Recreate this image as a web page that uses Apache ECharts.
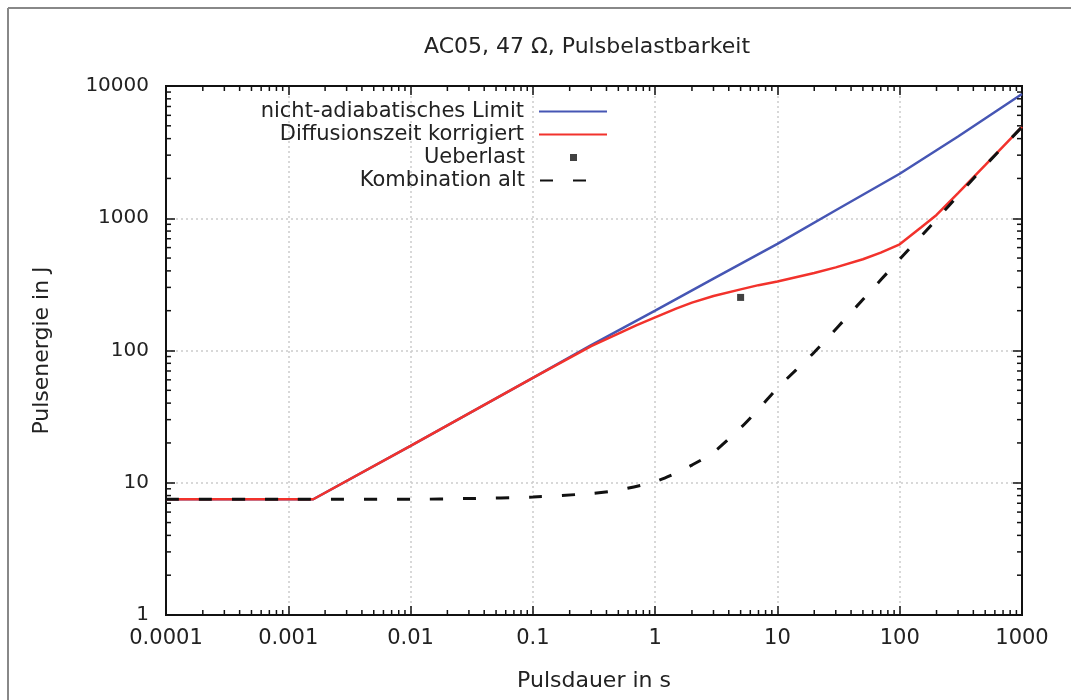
<!DOCTYPE html>
<html>
<head>
<meta charset="utf-8">
<script src="https://cdn.jsdelivr.net/npm/echarts@6/dist/echarts.min.js"></script>
<style>
  html, body { margin: 0; padding: 0; background: #fff; }
  #chart { width: 1071px; height: 700px; }
</style>
</head>
<body>
<div id="chart"></div>
<script>
// Pulsdauer (s) / Pulsenergie (J)
var limitX = [0.0001, 0.0016, 0.01, 0.1, 0.3, 1, 3, 10, 30, 100, 300, 1000];
var limitY = [7.5, 7.5, 19, 62, 110, 200, 350, 640, 1150, 2170, 4150, 8700];

var diffX = [0.0001, 0.0016, 0.01, 0.1, 0.3, 0.5, 0.7, 1, 1.5, 2, 3, 5, 7, 10, 20, 30, 50, 70, 100, 150, 200, 300, 500, 1000];
var diffY = [7.5, 7.5, 19, 62, 108, 134, 155, 178, 208, 230, 258, 290, 312, 332, 385, 425, 490, 550, 635, 855, 1060, 1550, 2520, 4900];

var overloadX = [5];
var overloadY = [252];

var combiX = [0.0001, 0.001, 0.01, 0.03, 0.1, 0.3, 0.5, 1, 1.5, 2, 3, 5, 7, 10, 20, 50, 100, 200, 500, 1000];
var combiY = [7.5, 7.5, 7.5, 7.6, 7.8, 8.3, 8.8, 10.2, 11.9, 13.6, 17, 26, 36, 52, 97, 243, 490, 980, 2500, 4900];

var xDecades = [0.0001, 0.001, 0.01, 0.1, 1, 10, 100];
var yDecades = [1, 10, 100, 1000];
var minorSteps = [2, 3, 4, 5, 6, 7, 8, 9];

var legendNames = ['nicht-adiabatisches Limit', 'Diffusionszeit korrigiert', 'Ueberlast', 'Kombination alt'];

function pairs(xs, ys) {
    return xs.map(function (x, i) { return [x, ys[i]]; });
}

var minorTicks = [];
xDecades.forEach(function (d) {
    minorSteps.forEach(function (m) { minorTicks.push([d * m, 1, 0]); });
});
yDecades.forEach(function (d) {
    minorSteps.forEach(function (m) { minorTicks.push([0.0001, d * m, 1]); });
});

var font = 'DejaVu Sans';
var txt = '#222';

function logLabel(v) {
    return String(+v.toPrecision(3));
}

var legends = legendNames.map(function (name, i) {
    var l = {
        data: [name],
        orient: 'horizontal',
        align: 'right',
        right: 458,
        top: 96 + i * 23,
        itemWidth: 68,
        itemHeight: 14,
        selectedMode: false,
        itemStyle: { opacity: 0 },
        textStyle: { fontFamily: font, fontSize: 21, color: txt, padding: [0, 10, 0, 0] }
    };
    if (i === 2) {
        l.right = 489;
        l.itemWidth = 7;
        l.itemHeight = 7;
        l.itemStyle = { color: '#111' };
        l.textStyle = { fontFamily: font, fontSize: 21, color: txt, padding: [0, 40, 0, 0] };
    }
    if (i === 3) {
        l.right = 478;
        l.itemWidth = 47;
    }
    return l;
});

var option = {
    backgroundColor: '#fff',
    animation: false,
    title: {
        text: 'AC05, 47 \u03A9, Pulsbelastbarkeit',
        left: 419,
        top: 31,
        textStyle: { fontFamily: font, fontSize: 22, fontWeight: 'normal', color: txt }
    },
    legend: legends,
    grid: {
        left: 166, right: 49, top: 86, bottom: 85,
        show: true, borderColor: '#111', borderWidth: 2
    },
    xAxis: [{
        type: 'log',
        logBase: 10,
        min: 0.0001,
        max: 1000,
        splitNumber: 10,
        name: 'Pulsdauer in s',
        nameLocation: 'middle',
        nameGap: 55,
        nameTextStyle: { fontFamily: font, fontSize: 22, color: txt },
        axisLine: { lineStyle: { color: '#111', width: 2 } },
        axisTick: { inside: true, length: 9, lineStyle: { color: '#111', width: 1.5 } },
        axisLabel: { fontFamily: font, fontSize: 21, color: txt, margin: 13, formatter: logLabel },
        splitLine: { show: true, lineStyle: { color: '#cccccc', type: [2, 3], width: 1.5 } }
    }, {
        type: 'log',
        logBase: 10,
        min: 0.0001,
        max: 1000,
        splitNumber: 10,
        position: 'top',
        axisLine: { lineStyle: { color: '#111', width: 2 } },
        axisTick: { inside: true, length: 9, lineStyle: { color: '#111', width: 1.5 } },
        axisLabel: { show: false },
        splitLine: { show: false }
    }],
    yAxis: [{
        type: 'log',
        logBase: 10,
        min: 1,
        max: 10000,
        name: 'Pulsenergie in J',
        nameLocation: 'middle',
        nameGap: 113,
        nameTextStyle: { fontFamily: font, fontSize: 22, color: txt },
        axisLine: { lineStyle: { color: '#111', width: 2 } },
        axisTick: { inside: true, length: 9, lineStyle: { color: '#111', width: 1.5 } },
        axisLabel: { fontFamily: font, fontSize: 20, color: txt, margin: 17, formatter: logLabel },
        splitLine: { show: true, lineStyle: { color: '#cccccc', type: [2, 3], width: 1.5 } }
    }, {
        type: 'log',
        logBase: 10,
        min: 1,
        max: 10000,
        position: 'right',
        axisLine: { lineStyle: { color: '#111', width: 2 } },
        axisTick: { inside: true, length: 9, lineStyle: { color: '#111', width: 1.5 } },
        axisLabel: { show: false },
        splitLine: { show: false }
    }],
    graphic: [
        { type: 'line', shape: { x1: 8, y1: 8, x2: 1071, y2: 8 }, style: { stroke: '#888', lineWidth: 2 } },
        { type: 'line', shape: { x1: 8, y1: 8, x2: 8, y2: 700 }, style: { stroke: '#888', lineWidth: 2 } }
    ],
    series: [{
        name: 'minorTicks',
        type: 'custom',
        silent: true,
        clip: false,
        z: 5,
        data: minorTicks,
        renderItem: function (params, api) {
            var cs = params.coordSys;
            var p = api.coord([api.value(0), api.value(1)]);
            var s = { stroke: '#111', lineWidth: 1.5 };
            var len = 5;
            if (api.value(2) === 0) {
                return { type: 'group', children: [
                    { type: 'line', shape: { x1: p[0], y1: cs.y + cs.height, x2: p[0], y2: cs.y + cs.height - len }, style: s },
                    { type: 'line', shape: { x1: p[0], y1: cs.y, x2: p[0], y2: cs.y + len }, style: s }
                ] };
            }
            return { type: 'group', children: [
                { type: 'line', shape: { x1: cs.x, y1: p[1], x2: cs.x + len, y2: p[1] }, style: s },
                { type: 'line', shape: { x1: cs.x + cs.width, y1: p[1], x2: cs.x + cs.width - len, y2: p[1] }, style: s }
            ] };
        }
    }, {
        name: legendNames[0],
        type: 'line',
        symbol: 'none',
        data: pairs(limitX, limitY),
        lineStyle: { color: '#4656b4', width: 2.5 },
        itemStyle: { color: '#4656b4' }
    }, {
        name: legendNames[1],
        type: 'line',
        symbol: 'none',
        data: pairs(diffX, diffY),
        lineStyle: { color: '#f2322c', width: 2.5 },
        itemStyle: { color: '#f2322c' }
    }, {
        name: legendNames[2],
        type: 'scatter',
        symbol: 'rect',
        symbolSize: 7,
        data: pairs(overloadX, overloadY),
        itemStyle: { color: '#111' }
    }, {
        name: legendNames[3],
        type: 'line',
        symbol: 'none',
        smooth: 0.25,
        data: pairs(combiX, combiY),
        lineStyle: { color: '#111', width: 3, type: [13, 20] },
        itemStyle: { color: '#111' }
    }]
};

var chart = echarts.init(document.getElementById('chart'));
chart.setOption(option);
</script>
</body>
</html>
